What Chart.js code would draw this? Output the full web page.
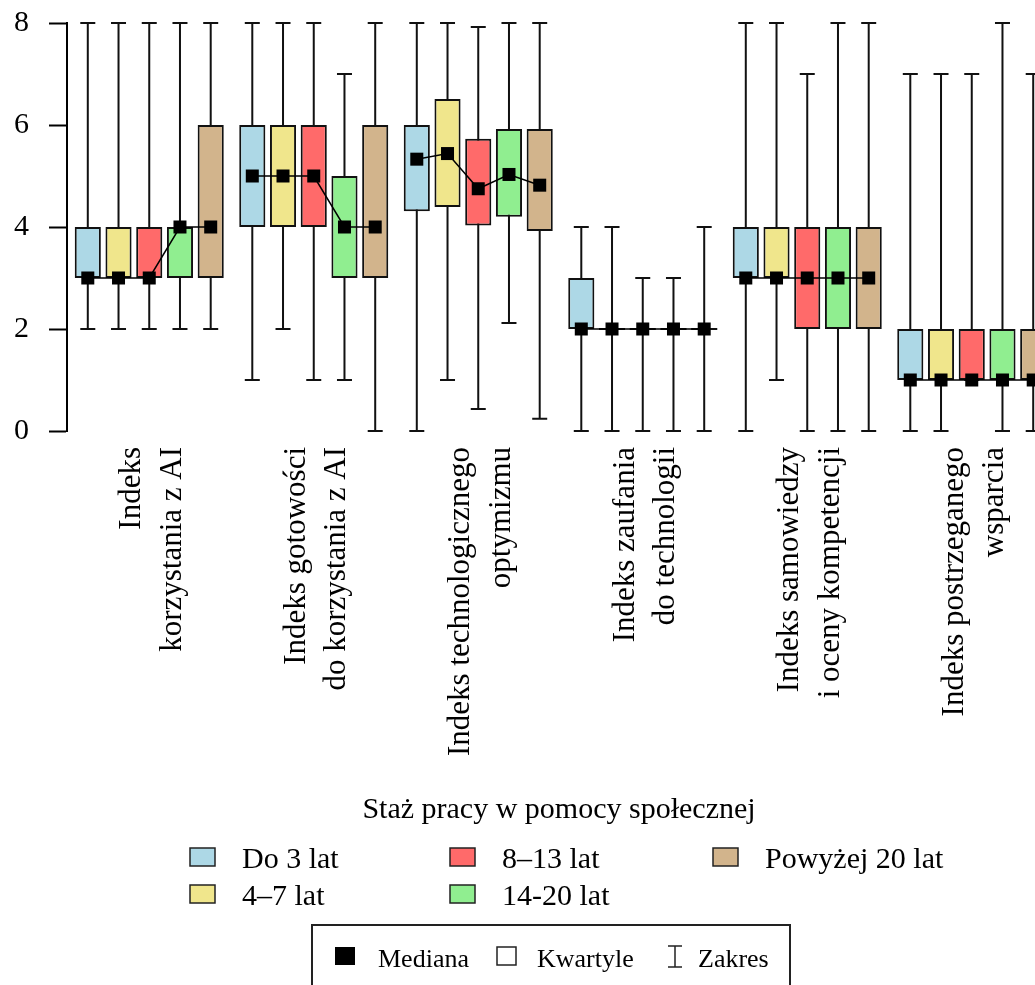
<!DOCTYPE html>
<html>
<head>
<meta charset="utf-8">
<script src="https://cdn.jsdelivr.net/npm/chart.js@4.4.1/dist/chart.umd.min.js"></script>
<style>
  html, body { margin: 0; padding: 0; background: #fff; overflow: hidden; }
  canvas { display: block; }
</style>
</head>
<body>
<canvas id="chart" width="1070" height="985"></canvas>
<script>
// kategorie (indeksy) na osi X
const categories = [
  ['Indeks', 'korzystania z AI'],
  ['Indeks gotowości', 'do korzystania z AI'],
  ['Indeks technologicznego', 'optymizmu'],
  ['Indeks zaufania', 'do technologii'],
  ['Indeks samowiedzy', 'i oceny kompetencji'],
  ['Indeks postrzeganego', 'wsparcia']
];

// grupy stażu pracy
const seriesNames = ['Do 3 lat', '4–7 lat', '8–13 lat', '14-20 lat', 'Powyżej 20 lat'];
const seriesColors = ['#ADD8E6', '#F0E68C', '#FF6A6A', '#90EE90', '#D2B48C'];

// wiersz = grupa stażu, kolumna = indeks
const minVals = [
  [2, 1, 0, 0, 0, 0],
  [2, 2, 1, 0, 1, 0],
  [2, 1, 0.43, 0, 0, 1],
  [2, 1, 2.12, 0, 0, 0],
  [2, 0, 0.24, 0, 0, 0]
];
const q1Vals = [
  [3, 4, 4.31, 2, 3, 1],
  [3, 4, 4.39, 2, 3, 1],
  [3, 4, 4.03, 2, 2, 1],
  [3, 3, 4.2, 2, 2, 1],
  [3, 3, 3.92, 2, 2, 1]
];
const medianVals = [
  [3, 5, 5.33, 2, 3, 1],
  [3, 5, 5.44, 2, 3, 1],
  [3, 5, 4.75, 2, 3, 1],
  [4, 4, 5.03, 2, 3, 1],
  [4, 4, 4.82, 2, 3, 1]
];
const q3Vals = [
  [4, 6, 6, 3, 4, 2],
  [4, 6, 6.51, 2, 4, 2],
  [4, 6, 5.73, 2, 4, 2],
  [4, 5, 5.92, 2, 4, 2],
  [6, 6, 5.92, 2, 4, 2]
];
const maxVals = [
  [8, 8, 8, 4, 8, 7],
  [8, 8, 8, 4, 8, 7],
  [8, 8, 7.92, 3, 7, 7],
  [8, 7, 8, 3, 8, 8],
  [8, 8, 8, 4, 8, 7]
];

const yTicks = [0, 2, 4, 6, 8];
const legendTitle = 'Staż pracy w pomocy społecznej';
const statLabels = ['Mediana', 'Kwartyle', 'Zakres'];

const FONT = "'Liberation Serif', 'Times New Roman', serif";
Chart.defaults.font.family = FONT;
Chart.defaults.color = '#000';

// wąsy, mediany i linie łączące mediany
const boxPlugin = {
  id: 'boxWhiskers',
  beforeDatasetsDraw (chart) {
    const { ctx } = chart;
    const y = chart.scales.y;
    ctx.save();
    ctx.strokeStyle = '#111';
    ctx.lineWidth = 2;
    chart.data.datasets.forEach((ds, s) => {
      chart.getDatasetMeta(s).data.forEach((bar, i) => {
        const top = y.getPixelForValue(maxVals[s][i]);
        const bot = y.getPixelForValue(minVals[s][i]);
        ctx.beginPath();
        ctx.moveTo(bar.x, top); ctx.lineTo(bar.x, bot);
        ctx.moveTo(bar.x - 7.5, top); ctx.lineTo(bar.x + 7.5, top);
        ctx.moveTo(bar.x - 7.5, bot); ctx.lineTo(bar.x + 7.5, bot);
        ctx.stroke();
      });
    });
    ctx.restore();
  },
  afterDatasetsDraw (chart) {
    const { ctx } = chart;
    const y = chart.scales.y;
    const metas = chart.data.datasets.map((ds, s) => chart.getDatasetMeta(s));
    ctx.save();
    // pudełka o zerowej wysokości (q1 == q3)
    ctx.strokeStyle = '#111';
    ctx.lineWidth = 2;
    metas.forEach((meta, s) => {
      meta.data.forEach((bar, i) => {
        if (q1Vals[s][i] === q3Vals[s][i]) {
          const py = y.getPixelForValue(q1Vals[s][i]);
          ctx.beginPath();
          ctx.moveTo(bar.x - bar.width / 2, py);
          ctx.lineTo(bar.x + bar.width / 2, py);
          ctx.stroke();
        }
      });
    });
    // linia median w obrębie każdego indeksu
    ctx.strokeStyle = '#000';
    ctx.lineWidth = 1.5;
    categories.forEach((c, i) => {
      ctx.beginPath();
      metas.forEach((meta, s) => {
        const bar = meta.data[i];
        const py = y.getPixelForValue(medianVals[s][i]);
        if (s === 0) ctx.moveTo(bar.x, py); else ctx.lineTo(bar.x, py);
      });
      ctx.stroke();
    });
    // kwadraty median
    ctx.fillStyle = '#000';
    metas.forEach((meta, s) => {
      meta.data.forEach((bar, i) => {
        const py = y.getPixelForValue(medianVals[s][i]);
        ctx.fillRect(bar.x - 6.5, py - 6.5, 13, 13);
      });
    });
    ctx.restore();
  }
};

// legenda pod wykresem
const legendPlugin = {
  id: 'customLegend',
  afterDraw (chart) {
    const { ctx } = chart;
    ctx.save();
    ctx.fillStyle = '#000';
    ctx.textBaseline = 'alphabetic';
    ctx.font = '30px ' + FONT;
    ctx.textAlign = 'center';
    ctx.fillText(legendTitle, 559, 818);

    ctx.textAlign = 'left';
    const colX = [190, 450, 713];
    const rowY = [848, 885];
    seriesNames.forEach((name, s) => {
      const x = colX[Math.floor(s / 2)];
      const top = rowY[s % 2];
      ctx.fillStyle = seriesColors[s];
      ctx.fillRect(x, top, 25, 18);
      ctx.strokeStyle = '#222';
      ctx.lineWidth = 1.5;
      ctx.strokeRect(x, top, 25, 18);
      ctx.fillStyle = '#000';
      ctx.fillText(name, x + 52, top + 20);
    });

    // ramka z objaśnieniem symboli
    ctx.strokeStyle = '#222';
    ctx.lineWidth = 2;
    ctx.strokeRect(312, 925, 478, 80);
    ctx.font = '26px ' + FONT;
    ctx.fillStyle = '#000';
    ctx.fillRect(335, 947, 20, 18);
    ctx.fillText(statLabels[0], 378, 967);
    ctx.lineWidth = 1.5;
    ctx.strokeRect(497, 947, 19, 18);
    ctx.fillText(statLabels[1], 537, 967);
    ctx.beginPath();
    ctx.moveTo(675, 946); ctx.lineTo(675, 967);
    ctx.moveTo(668, 946); ctx.lineTo(682, 946);
    ctx.moveTo(668, 967); ctx.lineTo(682, 967);
    ctx.stroke();
    ctx.fillText(statLabels[2], 698, 967);
    ctx.restore();
  }
};

const datasets = seriesNames.map((name, s) => ({
  label: name,
  data: categories.map((c, i) => [q1Vals[s][i], q3Vals[s][i]]),
  backgroundColor: seriesColors[s],
  borderColor: '#111',
  borderWidth: 2,
  borderSkipped: false,
  barPercentage: 0.85,
  categoryPercentage: 0.934
}));

new Chart(document.getElementById('chart'), {
  type: 'bar',
  data: { labels: categories, datasets },
  options: {
    responsive: false,
    animation: false,
    layout: { padding: { top: 23, right: 16, bottom: 0, left: 0 } },
    plugins: {
      legend: { display: false },
      tooltip: { enabled: false }
    },
    scales: {
      x: {
        offset: true,
        grid: { display: false, drawTicks: false },
        border: { display: false },
        ticks: {
          autoSkip: false,
          maxRotation: 90,
          minRotation: 90,
          padding: 16,
          labelOffset: -17,
          color: '#000',
          font: { size: 31, lineHeight: 1.3 }
        },
        afterFit: (scale) => { scale.height = 554; scale.paddingTop = 0; scale.paddingBottom = 0; }
      },
      y: {
        min: 0,
        max: 8,
        afterBuildTicks: (scale) => { scale.ticks = yTicks.map(v => ({ value: v })); },
        grid: {
          drawOnChartArea: false,
          drawTicks: true,
          tickLength: 18,
          tickWidth: 2,
          tickColor: '#000'
        },
        border: { display: true, color: '#000', width: 2 },
        ticks: {
          padding: 20,
          color: '#000',
          font: { size: 30 }
        },
        afterFit: (scale) => { scale.width = 67; scale.paddingTop = 0; scale.paddingBottom = 0; }
      }
    }
  },
  plugins: [boxPlugin, legendPlugin]
});
</script>
</body>
</html>
